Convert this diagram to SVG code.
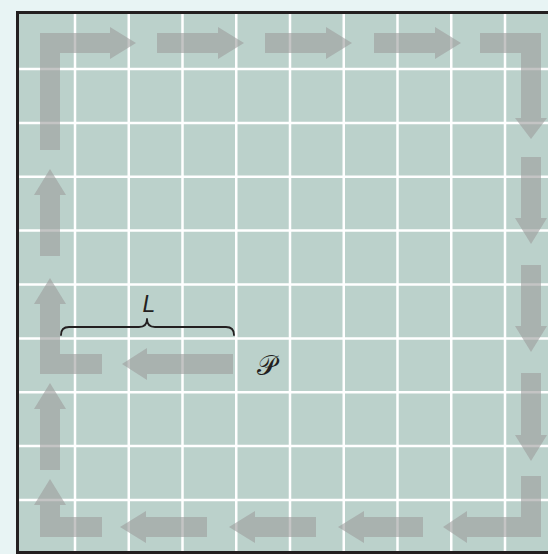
<svg xmlns="http://www.w3.org/2000/svg" width="548" height="554" viewBox="0 0 548 554">
<style>
.grid line{stroke:#ffffff;stroke-width:2.5}
.arr{fill:#9c9c9c;fill-opacity:0.6}
.brace{fill:none;stroke:#231f20;stroke-width:1.8;stroke-linecap:round;stroke-linejoin:round}
.lbl{font-family:"Liberation Sans","DejaVu Sans",sans-serif;font-style:italic;fill:#231f20}
</style>
<rect x="0" y="0" width="548" height="554" fill="#e8f4f4"/>
<g id="frame">
<rect x="17.5" y="12.5" width="545" height="540" fill="#bbd1cb" stroke="#231f20" stroke-width="3"/>
</g>
<g id="grid" class="grid">
<line x1="75" y1="14" x2="75" y2="551"/>
<line x1="128.75" y1="14" x2="128.75" y2="551"/>
<line x1="182.5" y1="14" x2="182.5" y2="551"/>
<line x1="236.25" y1="14" x2="236.25" y2="551"/>
<line x1="290" y1="14" x2="290" y2="551"/>
<line x1="343.75" y1="14" x2="343.75" y2="551"/>
<line x1="397.5" y1="14" x2="397.5" y2="551"/>
<line x1="451.25" y1="14" x2="451.25" y2="551"/>
<line x1="505" y1="14" x2="505" y2="551"/>
<line x1="19" y1="69" x2="548" y2="69"/>
<line x1="19" y1="122.9" x2="548" y2="122.9"/>
<line x1="19" y1="176.75" x2="548" y2="176.75"/>
<line x1="19" y1="230.6" x2="548" y2="230.6"/>
<line x1="19" y1="284.5" x2="548" y2="284.5"/>
<line x1="19" y1="338.4" x2="548" y2="338.4"/>
<line x1="19" y1="392.25" x2="548" y2="392.25"/>
<line x1="19" y1="446.1" x2="548" y2="446.1"/>
<line x1="19" y1="500" x2="548" y2="500"/>
</g>
<g id="connectors">
<path class="arr" d="M40,150 L40,33 L110,33 L110,27 L136,43 L110,59 L110,53 L60,53 L60,150 Z"/>
<path class="arr" d="M157,33 L218,33 L218,27 L244,43 L218,59 L218,53 L157,53 Z"/>
<path class="arr" d="M265,33 L326,33 L326,27 L352,43 L326,59 L326,53 L265,53 Z"/>
<path class="arr" d="M374,33 L435,33 L435,27 L461,43 L435,59 L435,53 L374,53 Z"/>
<path class="arr" d="M480,33 L541,33 L541,118 L547,118 L531,139 L515,118 L521,118 L521,53 L480,53 Z"/>
<path class="arr" d="M521,157 L541,157 L541,218 L547,218 L531,244 L515,218 L521,218 Z"/>
<path class="arr" d="M521,265 L541,265 L541,326 L547,326 L531,352 L515,326 L521,326 Z"/>
<path class="arr" d="M521,373 L541,373 L541,435 L547,435 L531,461 L515,435 L521,435 Z"/>
<path class="arr" d="M521,476 L541,476 L541,537 L467,537 L467,543 L443,527 L467,511 L467,517 L521,517 Z"/>
<path class="arr" d="M423,517 L423,537 L364,537 L364,543 L338,527 L364,511 L364,517 Z"/>
<path class="arr" d="M316,517 L316,537 L255,537 L255,543 L229,527 L255,511 L255,517 Z"/>
<path class="arr" d="M207,517 L207,537 L146,537 L146,543 L120,527 L146,511 L146,517 Z"/>
<path class="arr" d="M102,517 L102,537 L40,537 L40,505 L34,505 L50,479 L66,505 L60,505 L60,517 Z"/>
<path class="arr" d="M40,470 L40,409 L34,409 L50,383 L66,409 L60,409 L60,470 Z"/>
<path class="arr" d="M102,354 L102,374 L40,374 L40,304 L34,304 L50,278 L66,304 L60,304 L60,354 Z"/>
<path class="arr" d="M40,256 L40,195 L34,195 L50,169 L66,195 L60,195 L60,256 Z"/>
<path class="arr" d="M233,354 L233,374 L147,374 L147,380 L122,364 L147,348 L147,354 Z"/>
</g>
<g id="brace">
<path class="brace" d="M61,335 Q61,327 69,327 L139,327 Q147,327 147,319 Q147,327 155,327 L226,327 Q234,327 234,335"/>
</g>
<g id="label-L">
<text class="lbl" x="149" y="312" font-size="23" text-anchor="middle">L</text>
</g>
<g id="label-P">
<text x="266" y="375" font-size="27" text-anchor="middle" font-family="'DejaVu Serif','DejaVu Sans','Liberation Serif',serif" fill="#231f20">𝒫</text>
</g>
</svg>
